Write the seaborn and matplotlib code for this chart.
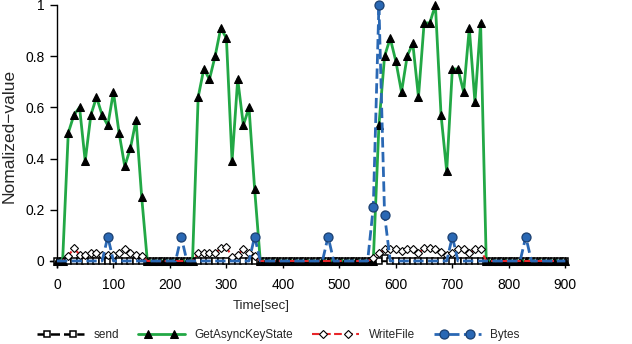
import matplotlib
matplotlib.use("Agg")
import numpy as np
import matplotlib.pyplot as plt
from matplotlib.legend_handler import HandlerLine2DCompound
import seaborn as sns

# ------------------------------------------------------
# Data (read off the reference, sampled every 10 s)
# ------------------------------------------------------
time_sec = list(range(0, 910, 10))

send = [0.0] * 58 + [0.01] + [0.0] * 32

get_async_key_state = (
    [0, 0]
    + [0.50, 0.57, 0.60, 0.39, 0.57, 0.64, 0.57, 0.53, 0.66, 0.50, 0.37, 0.44, 0.55, 0.25]
    + [0] * 9
    + [0.64, 0.75, 0.71, 0.80, 0.91, 0.87, 0.39, 0.71, 0.53, 0.60, 0.28]
    + [0] * 21
    + [0.53, 0.80, 0.87, 0.78, 0.66, 0.80, 0.85, 0.64, 0.93, 0.93, 1.0, 0.57, 0.35,
       0.75, 0.75, 0.66, 0.91, 0.62, 0.93]
    + [0] * 15
)

write_file = (
    [0, 0]
    + [0.02, 0.05, 0.025, 0.025, 0.03, 0.03, 0.025, 0.025, 0.025, 0.03, 0.045, 0.03, 0.025, 0.02]
    + [0] * 9
    + [0.03, 0.03, 0.03, 0.03, 0.05, 0.055, 0.015, 0.025, 0.045, 0.03, 0.02]
    + [0] * 20
    + [0.01]
    + [0.03, 0.045, 0.045, 0.045, 0.04, 0.045, 0.045, 0.03, 0.05, 0.05, 0.045, 0.035, 0.023,
       0.03, 0.045, 0.045, 0.03, 0.045, 0.045]
    + [0] * 15
)

bytes_peaks = {90: 0.095, 220: 0.095, 350: 0.095, 480: 0.095, 560: 0.21,
               570: 1.0, 580: 0.18, 700: 0.095, 830: 0.095}
bytes_val = [bytes_peaks.get(t, 0.0) for t in time_sec]

x_ticks = [0, 100, 200, 300, 400, 500, 600, 700, 800, 900]
y_ticks = [0, 0.2, 0.4, 0.6, 0.8, 1]
y_tick_labels = ["0", "0.2", "0.4", "0.6", "0.8", "1"]

# ------------------------------------------------------
# Style
# ------------------------------------------------------
sns.set_style("ticks")
plt.rcParams["font.family"] = ["Liberation Sans", "DejaVu Sans"]

GREEN = "#22a845"
BLUE = "#2a68b4"
RED = "#e8262a"


class InsetMarkerHandler(HandlerLine2DCompound):
    """Full-width legend line, two markers set in from the ends."""

    def get_xdata(self, legend, xdescent, ydescent, width, height, fontsize):
        line_x = np.array([-xdescent, -xdescent + width])
        pad = 0.9 * fontsize
        marker_x = np.array([-xdescent + pad, -xdescent + width - pad])
        return line_x, marker_x

    def create_artists(self, *args, **kwargs):
        artists = super().create_artists(*args, **kwargs)
        for a in artists:
            a.set_markevery(None)
        return artists


fig = plt.figure(figsize=(6.32, 3.44), dpi=100)
ax = fig.add_axes([0.0794, 0.2227, 0.8151, 0.7628])


def nonzero_idx(vals):
    return [i for i, v in enumerate(vals) if v > 0]


sns.lineplot(x=time_sec, y=send, ax=ax, color="black", linestyle="--", linewidth=1.8,
             marker="s", markersize=4.3, markerfacecolor="white", markeredgecolor="black",
             markeredgewidth=1.1, label="send", clip_on=False, zorder=3)
sns.lineplot(x=time_sec, y=get_async_key_state, ax=ax, color=GREEN, linestyle="-",
             linewidth=2.0, marker="^", markersize=5.5, markerfacecolor="black",
             markeredgecolor="black", label="GetAsyncKeyState", clip_on=False, zorder=4)
sns.lineplot(x=time_sec, y=write_file, ax=ax, color=RED, linestyle="--", linewidth=1.5,
             marker="D", markersize=4.3, markerfacecolor="white", markeredgecolor="black",
             markeredgewidth=0.8, markevery=nonzero_idx(write_file),
             label="WriteFile", clip_on=False, zorder=5)
sns.lineplot(x=time_sec, y=bytes_val, ax=ax, color=BLUE, linestyle="--", linewidth=2.0,
             marker="o", markersize=6.5, markerfacecolor=BLUE, markeredgecolor="#1b3f70",
             markeredgewidth=0.9, markevery=nonzero_idx(bytes_val),
             label="Bytes", clip_on=False, zorder=6)

# ------------------------------------------------------
# Axes
# ------------------------------------------------------
ax.set_xlim(-12, 900)
ax.set_ylim(-0.025, 1)
ax.spines["left"].set_position(("data", 0))
ax.spines["bottom"].set_position(("data", 0))
ax.spines["top"].set_visible(False)
ax.spines["right"].set_visible(False)
for s in ("left", "bottom"):
    ax.spines[s].set_linewidth(1.0)
    ax.spines[s].set_color("black")

ax.set_xticks(x_ticks)
ax.set_yticks(y_ticks)
ax.set_yticklabels(y_tick_labels)
ax.tick_params(axis="both", direction="out", length=5, width=1.0, labelsize=10,
               color="black", labelcolor="black")
ax.tick_params(axis="x", pad=7)
ax.tick_params(axis="y", pad=4)

ax.set_xlabel("Time[sec]", fontsize=9.5)
ax.xaxis.set_label_coords(0.41, -0.125)
ax.set_ylabel("Nomalized\u2212value", fontsize=12.5)
ax.yaxis.set_label_coords(-0.066, 0.5)

handles, labels = ax.get_legend_handles_labels()
ax.legend(handles, labels, loc="center left", bbox_to_anchor=(0.058, 1 - 335 / 344),
          bbox_transform=fig.transFigure, ncol=4, frameon=False, fontsize=8.5,
          numpoints=2, handlelength=4.0, handletextpad=0.8, columnspacing=1.6,
          borderpad=0, borderaxespad=0,
          handler_map={h: InsetMarkerHandler() for h in handles})

fig.savefig("out.png", dpi=100)
plt.close(fig)
